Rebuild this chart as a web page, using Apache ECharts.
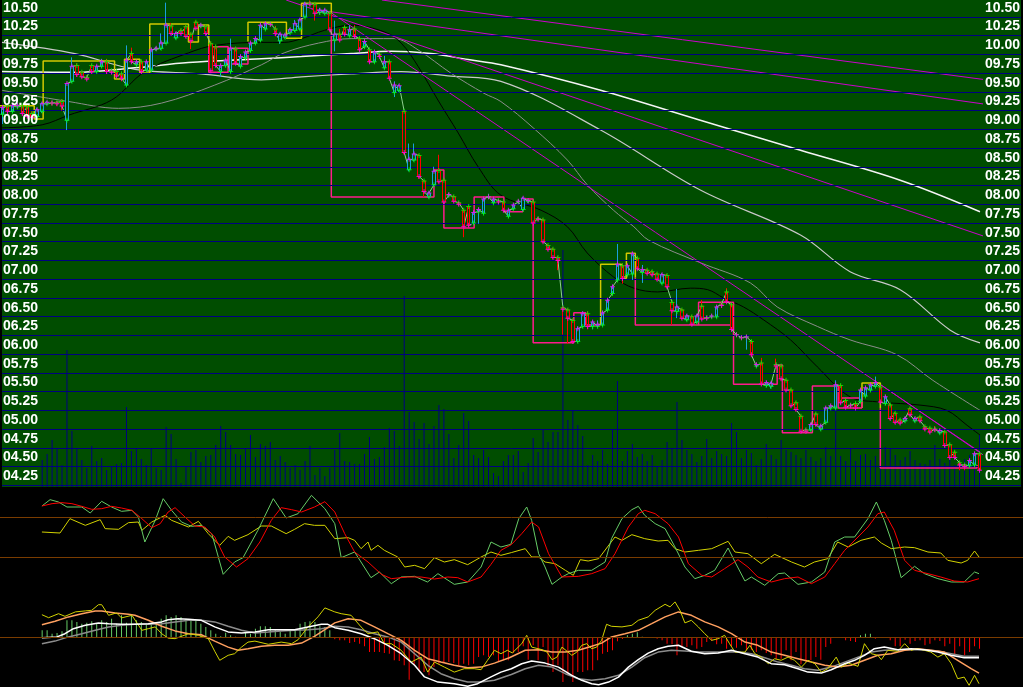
<!DOCTYPE html>
<html><head><meta charset="utf-8">
<script src="https://cdn.jsdelivr.net/npm/echarts@6/dist/echarts.min.js"></script>
<style>html,body{margin:0;padding:0;background:#000;}#c{width:1023px;height:687px;}</style>
</head><body><div id="c"></div>
<script>
// ---------- DATA ----------
// candle rows: [open, close, low, high]
const candles = [
[9.08,9.17,8.95,9.20],[9.19,9.12,9.08,9.21],[9.12,9.20,9.10,9.22],[9.18,9.20,9.15,9.23],[9.19,9.09,9.06,9.21],
[9.18,9.05,9.03,9.20],[9.09,9.04,9.02,9.12],[9.05,9.14,9.03,9.17],[9.12,9.22,9.10,9.24],[9.22,9.24,9.20,9.26],
[9.23,9.23,9.20,9.26],[9.24,9.22,9.19,9.26],[9.25,9.19,9.13,9.28],[9.00,9.49,8.87,9.50],[9.52,9.72,9.50,9.84],
[9.73,9.61,9.58,9.76],[9.64,9.58,9.56,9.66],[9.57,9.55,9.53,9.60],[9.73,9.65,9.62,9.75],[9.65,9.72,9.63,9.74],
[9.72,9.78,9.70,9.82],[9.78,9.65,9.62,9.82],[9.66,9.64,9.62,9.68],[9.65,9.59,9.57,9.67],[9.62,9.56,9.52,9.64],
[9.47,9.80,9.45,10.00],[9.89,9.78,9.76,9.97],[9.74,9.78,9.72,9.81],[9.78,9.65,9.62,9.80],[9.67,9.78,9.65,9.80],
[9.67,9.94,9.65,9.96],[9.95,9.96,9.93,9.98],[9.96,10.03,9.94,10.16],[10.03,10.27,10.02,10.57],[10.26,10.16,10.14,10.30],
[10.10,10.16,10.08,10.18],[10.20,10.16,10.14,10.22],[10.25,10.12,10.10,10.27],[10.15,10.06,9.95,10.17],[10.31,10.23,10.21,10.33],
[10.26,10.27,10.24,10.29],[10.25,10.16,10.14,10.27],[10.02,9.66,9.64,10.05],[9.98,9.73,9.71,10.00],[9.65,9.73,9.58,9.75],
[9.73,9.80,9.71,9.82],[9.65,9.96,9.63,10.09],[9.95,9.76,9.74,9.97],[9.72,9.85,9.70,9.87],[9.83,9.91,9.81,9.93],
[9.93,10.03,9.91,10.05],[10.03,10.09,10.01,10.11],[10.07,10.27,10.05,10.30],[10.22,10.29,10.20,10.31],[10.29,10.28,10.26,10.30],
[10.22,10.16,10.12,10.26],[10.06,10.15,10.02,10.17],[10.11,10.14,10.09,10.16],[10.17,10.21,10.15,10.23],[10.20,10.29,10.18,10.34],
[10.22,10.34,10.20,10.36],[10.38,10.55,10.37,10.58],[10.56,10.55,10.53,10.60],[10.55,10.43,10.33,10.57],[10.44,10.47,10.41,10.50],
[10.43,10.47,10.41,10.49],[10.43,10.21,10.19,10.45],[10.07,10.15,9.92,10.33],[10.15,10.07,10.05,10.22],[10.24,10.15,10.13,10.26],
[10.13,10.21,10.11,10.27],[10.22,10.12,10.10,10.27],[10.09,9.94,9.92,10.11],[9.98,10.05,9.96,10.07],[9.94,9.78,9.76,9.96],
[9.78,9.91,9.76,9.93],[9.88,9.85,9.83,9.90],[9.70,9.78,9.68,9.86],[9.78,9.56,9.54,9.80],[9.37,9.47,9.31,9.52],
[9.40,9.46,9.38,9.48],[9.12,8.57,8.55,9.13],[8.34,8.48,8.32,8.69],[8.47,8.55,8.45,8.69],[8.53,8.25,8.22,8.55],
[8.19,8.05,7.98,8.20],[7.98,8.03,7.96,8.05],[8.14,8.32,8.12,8.38],[8.33,8.18,8.16,8.54],[8.20,7.91,7.90,8.21],
[8.00,8.01,7.97,8.03],[7.98,7.92,7.90,8.00],[7.90,7.88,7.86,7.92],[7.80,7.58,7.44,7.82],[7.85,7.60,7.57,7.86],
[7.63,7.77,7.61,7.79],[7.78,7.81,7.62,7.83],[7.76,7.95,7.74,7.97],[7.98,7.98,7.96,8.02],[7.90,7.95,7.88,7.97],
[7.93,7.91,7.89,7.95],[7.91,7.80,7.78,7.93],[7.72,7.80,7.70,7.82],[7.82,7.87,7.80,7.89],[7.91,7.92,7.89,7.94],
[7.81,7.96,7.79,7.98],[7.92,7.93,7.90,7.95],[7.91,7.63,7.61,7.93],[7.69,7.68,7.66,7.71],[7.67,7.38,7.36,7.69],
[7.33,7.28,7.26,7.35],[7.28,7.17,7.15,7.30],[7.17,7.13,7.00,7.19],[6.50,6.48,6.14,6.52],[6.47,6.36,6.02,6.49],
[6.33,6.05,6.03,6.35],[6.05,6.22,6.03,6.25],[6.25,6.42,6.23,6.45],[6.42,6.25,6.21,6.45],[6.25,6.31,6.21,6.33],
[6.25,6.28,6.23,6.33],[6.27,6.43,6.25,6.46],[6.47,6.60,6.45,6.62],[6.69,6.78,6.67,6.80],[6.87,7.08,6.85,7.35],
[7.06,6.89,6.82,7.09],[6.94,7.06,6.92,7.08],[6.95,7.22,6.87,7.24],[7.16,7.02,7.00,7.18],[6.97,7.01,6.83,7.07],
[7.00,6.96,6.94,7.02],[6.98,6.94,6.92,7.00],[6.95,6.88,6.86,6.97],[6.83,6.94,6.81,6.96],[6.93,6.78,6.76,6.95],
[6.57,6.46,6.27,6.58],[6.45,6.51,6.36,6.75],[6.47,6.36,6.34,6.49],[6.34,6.39,6.32,6.41],[6.38,6.28,6.26,6.40],
[6.31,6.39,6.29,6.41],[6.52,6.35,6.33,6.60],[6.37,6.36,6.34,6.39],[6.38,6.39,6.36,6.41],[6.38,6.51,6.36,6.53],
[6.55,6.53,6.50,6.57],[6.71,6.58,6.56,6.76],[6.54,6.21,6.19,6.56],[6.14,6.14,6.12,6.16],[6.10,6.10,6.08,6.12],
[6.11,6.11,5.94,6.13],[6.05,5.87,5.85,6.07],[5.72,5.74,5.70,5.76],[5.76,5.48,5.46,5.83],[5.46,5.50,5.44,5.52],
[5.45,5.49,5.42,5.51],[5.74,5.72,5.70,5.82],[5.72,5.55,5.53,5.74],[5.53,5.40,5.38,5.55],[5.40,5.19,5.17,5.42],
[5.23,5.14,5.12,5.25],[5.05,4.85,4.83,5.07],[4.87,4.85,4.83,4.89],[4.87,4.94,4.85,4.96],[5.08,4.94,4.92,5.10],
[4.88,4.92,4.86,4.94],[4.97,5.16,4.95,5.18],[5.16,5.19,5.14,5.21],[5.16,5.47,5.14,5.53],[5.46,5.23,5.21,5.48],
[5.26,5.17,5.15,5.28],[5.20,5.19,5.17,5.22],[5.22,5.16,5.14,5.24],[5.25,5.40,5.23,5.42],[5.32,5.43,5.30,5.45],
[5.40,5.47,5.38,5.49],[5.45,5.50,5.43,5.58],[5.44,5.24,5.22,5.46],[5.22,5.31,5.20,5.33],[5.20,5.02,5.00,5.22],
[5.09,4.97,4.95,5.11],[5.00,4.96,4.94,5.02],[4.99,5.02,4.97,5.04],[5.15,5.07,5.05,5.17],[4.99,5.02,4.97,5.04],
[5.04,4.99,4.97,5.06],[4.91,4.88,4.86,4.93],[4.89,4.84,4.82,4.91],[4.88,4.87,4.85,4.92],[4.83,4.86,4.81,4.88],
[4.84,4.66,4.64,4.86],[4.67,4.50,4.48,4.69],[4.57,4.50,4.48,4.59],[4.43,4.40,4.33,4.45],[4.40,4.38,4.33,4.42],
[4.39,4.46,4.37,4.48],[4.40,4.55,4.38,4.57],[4.55,4.33,4.32,4.57]
];
const volumes = [null,null,null,null,null,null,null,null,
27,33,47,39,22,137,56,38,27,19,41,26,29,17,21,23,24,80,36,38,28,22,38,19,17,60,53,28,4,21,35,37,25,31,32,42,61,55,42,33,32,38,
52,30,43,41,45,27,31,25,19,22,17,26,41,12,19,11,19,37,54,26,25,23,23,33,50,28,30,40,59,56,41,191,75,65,48,64,43,61,82,78,
53,29,42,74,66,32,29,37,30,14,11,26,32,32,36,15,24,49,35,58,45,55,55,237,67,77,62,51,22,32,26,37,23,57,106,26,36,43,30,33,
26,32,21,27,45,38,85,47,37,33,25,31,48,29,36,33,31,64,55,29,37,34,22,28,43,32,28,47,37,35,32,29,37,30,26,29,40,31,107,31,
26,38,26,32,33,27,31,38,40,38,32,27,30,36,27,24,23,27,42,28,24,32,22,20,28,32,33,52];
const priceTicks = [4.25,4.5,4.75,5,5.25,5.5,5.75,6,6.25,6.5,6.75,7,7.25,7.5,7.75,8,8.25,8.5,8.75,9,9.25,9.5,9.75,10,10.25,10.5];

// moving averages: [candle index, price]
const maBlack = [[-0.1,8.90],[8,8.94],[13.4,9.07],[22,9.27],[28.7,9.65],[37.5,9.90],[42.8,10.0],[52.2,10.04],[56.8,10.04],[60.3,10.09],[64.9,10.2],[70.3,10.27],[77,10.18],[80.4,10.03],[83.8,9.72],[87.8,9.27],[91.9,8.83],[95.9,8.38],[100.5,8.0],[108.6,7.80],[113.9,7.58],[117.9,7.23],[123.2,6.91],[127.3,6.76],[132.1,6.71],[138.7,6.76],[142.2,6.74],[145.4,6.63],[149.4,6.51],[153.4,6.34],[158.9,6.07],[164.3,5.71],[170.9,5.31],[177,5.24],[185,5.20],[190.4,5.13],[194.5,4.93],[197.1,4.80]];
const maDarkGray = [[-0.1,9.40],[13.4,9.25],[23.4,9.16],[32.1,9.23],[42.8,9.47],[52.2,9.74],[56.8,9.90],[63.7,10.03],[70.3,10.09],[79,10.09],[83.8,9.94],[90.4,9.63],[97.1,9.36],[100.5,9.25],[107,8.90],[113.9,8.47],[117.9,8.14],[123.2,7.80],[127.3,7.58],[130.3,7.40],[140.7,7.10],[150.8,6.83],[156.2,6.51],[164.3,6.25],[170.9,6.07],[180.4,5.87],[187.6,5.53],[197.1,5.13]];
const maLightGray = [[-0.1,10.04],[14.6,9.89],[26.7,9.68],[40.1,9.62],[52.2,9.54],[60.3,9.58],[70.3,9.62],[80.4,9.65],[90.4,9.59],[100.5,9.52],[120.6,8.87],[140.7,8.07],[160.9,7.47],[170.9,6.98],[181,6.74],[191.1,6.20],[197.1,6.03]];
const maWhite = [[-0.1,9.65],[14.6,9.64],[26.7,9.70],[37.5,9.77],[52.2,9.82],[60.3,9.85],[70.3,9.89],[78.4,9.92],[86.4,9.89],[93.9,9.81],[100.5,9.74],[120.6,9.40],[140.7,9.00],[160.9,8.60],[181,8.20],[197.1,7.78]];

// magenta trend lines: [[index, price], [index, price]]
const trendLines = [
 [[76.5,10.605],[197.8,9.545]],
 [[62.3,10.485],[197.8,9.218]],
 [[57.2,10.605],[197.8,7.455]],
 [[66.3,10.434],[197.1,4.573]],
 [[176.2,5.511],[197.7,4.537]]
];
// step "box" lines: [index, price] polylines
const boxYellow = [
 [[-0.5,9.195],[6.4,9.195],[6.4,9.018],[8.2,9.018],[8.2,9.791],[22.6,9.791],[22.6,9.551],[24.6,9.551],[24.6,9.814],[27.7,9.814],[27.7,9.631],[29.7,9.631],[29.7,10.285],[37.5,10.285],[37.5,10.045],[39.5,10.045],[39.5,10.272],[41.6,10.272],[41.6,9.982]],
 [[49.5,10.05],[49.5,10.308],[57.25,10.308],[57.25,10.094],[60.3,10.094],[60.3,10.561],[66.3,10.561],[66.3,10.40]],
 [[120.6,6.269],[120.6,7.079],[124.8,7.079],[124.8,6.892],[125.8,6.892],[125.8,7.225],[127.6,7.225],[127.6,6.9]],
 [[173.3,5.161],[173.3,5.495],[177.0,5.495],[177.0,5.161]]
];
const boxPink = [
 [[41.6,9.982],[45.5,9.982],[45.5,9.641],[41.6,9.641],[41.6,9.982]],
 [[45.5,9.961],[49.5,9.961],[49.5,9.751],[45.5,9.751],[45.5,9.961]],
 [[66.3,10.40],[66.3,7.977],[87.0,7.977],[87.0,8.337],[89.0,8.337],[89.0,7.563],[95.1,7.563],[95.1,7.977],[101.1,7.977],[101.1,7.781],[104.9,7.781],[104.9,7.950],[107.0,7.950],[107.0,6.032],[115.2,6.032],[115.2,6.433],[117.6,6.433],[117.6,6.269],[120.6,6.269]],
 [[127.6,6.9],[127.6,6.269],[147.4,6.269]],
 [[140.35,6.269],[140.35,6.572],[147.4,6.572],[147.4,5.478],[156.2,5.478],[156.2,5.735],[157.25,5.735],[157.25,4.832],[163.3,4.832],[163.3,5.455],[168.5,5.455],[168.5,5.161],[173.3,5.161]],
 [[168.5,5.295],[173.3,5.295],[173.3,5.161]],
 [[177.0,5.161],[177.0,4.361],[196.5,4.361],[196.5,4.40]]
];

// KDJ-type oscillator: [index, value]
const oscGreen = [[7.95,96.9],[9.6,106.4],[11.3,102.9],[13,95.4],[16,95.4],[17.7,86.4],[20,103.9],[22,95.4],[24,88.9],[26.1,90.4],[27.4,80.4],[28.7,42.9],[30.8,75.4],[32.4,107.9],[34.1,90.4],[36.1,72.9],[38.1,66.4],[40.1,67.9],[42.2,55.4],[44.5,-5.6],[46.8,12.9],[48.5,19.4],[51.5,60.4],[54.6,107.9],[57.2,78.9],[59.6,85.4],[62.3,112.9],[65,92.9],[67,70.4],[68.3,19.4],[71,27.9],[74.3,-10.6],[76,-2.1],[78.4,-19.6],[80.4,-9.6],[83.1,-8.6],[85.7,-17.1],[87.8,-4.6],[91.1,-20.6],[93.8,-17.1],[96.5,5.4],[98.5,42.9],[100.5,35.4],[102.5,39.4],[104.1,77.9],[105.7,95.4],[106.7,75.4],[108.1,25.4],[109.4,5.4],[110.8,-20.6],[112.8,-9.6],[114.1,-4.6],[116.1,0.4],[118.8,0.4],[121.5,12.9],[122.8,47.9],[124.9,77.9],[126.9,91.4],[128.2,96.4],[129.5,82.9],[131.6,70.4],[133.6,62.9],[135.6,35.4],[137.6,5.4],[139.6,-12.1],[141.6,-7.1],[143.6,0.4],[146.3,33.9],[147.7,12.9],[149.7,-15.6],[151,-9.6],[153.7,-22.1],[156.4,-4.6],[157.7,-3.6],[160.4,-20.6],[163.1,-17.1],[165.8,-2.1],[167.8,42.9],[169.8,50.4],[171.8,50.4],[174.5,77.9],[176.2,102.9],[177.8,75.4],[179.2,45.4],[181.2,-10.6],[183.9,6.4],[185.9,-4.6],[188.6,-12.1],[191.3,-17.1],[193.9,-17.1],[196,-2.1],[196.9,-4.6]];
const oscRed = [[7.95,96.9],[10,100.4],[12,101.9],[14,100.4],[16,96.4],[18,91.9],[20,92.9],[22,96.4],[24,93.9],[26.1,90.4],[28.1,77.9],[30.1,64.4],[31.8,70.4],[33.4,87.9],[34.8,94.4],[36.8,80.4],[38.8,66.9],[40.8,65.4],[42.8,50.4],[44.8,20.4],[47.2,5.4],[49.5,17.9],[51.9,42.9],[54.2,75.4],[56.2,94.4],[58.3,91.4],[60.3,87.9],[62.9,95.4],[65,103.4],[67,87.9],[69,55.4],[71,27.9],[73.7,12.9],[76.4,-5.6],[78.4,-12.1],[81.7,-9.6],[84.4,-9.6],[87.1,-12.6],[89.8,-9.6],[91.8,-10.6],[93.8,-17.1],[96.5,-9.6],[98.5,9.4],[100.5,30.4],[102.6,39],[104.7,55.4],[106.7,72.9],[108.1,65.4],[110.1,25.4],[112.8,-9.6],[116.1,-8.6],[118.8,-4.6],[121.5,2.9],[123.5,25.4],[126.2,65.4],[128.2,85.4],[129.5,90.4],[131.6,85.4],[134.2,70.4],[136.3,50.4],[138.3,10.4],[141,-7.1],[143,-9.6],[145.6,2.9],[148.3,16.4],[150.3,5.4],[152.3,-9.6],[155,-17.1],[157.7,-12.1],[160.4,-9.6],[163.1,-19.6],[165.8,-9.6],[167.8,10.4],[169.8,30.4],[172.5,50.4],[174.5,65.4],[176.5,85.4],[177.8,87.9],[179.8,60.4],[181.9,15.4],[183.9,0.4],[186.6,-4.6],[189.2,-9.6],[191.9,-15.6],[194.6,-17.1],[196.9,-12.1]];
const oscYellow = [[7.95,57.9],[11.6,56.4],[13.6,77.9],[16.7,67.9],[19.7,76.4],[20.7,62.9],[23.4,61.9],[25.4,71.9],[27.4,72.9],[28.1,60.4],[30.1,72.9],[32.8,82.9],[34.1,75.4],[37.5,65.4],[39.5,73.9],[41.5,55.4],[43.8,37.9],[45.5,51.4],[46.8,45.4],[49.5,53.9],[52.2,66.9],[54.2,66.9],[57.2,55.4],[58.9,61.9],[60.9,70.4],[62.9,67.9],[65,67.9],[67,47.9],[69.7,49.4],[71,45.4],[72.3,32.9],[73.7,42.9],[74.3,30.4],[75.7,37.9],[77,30.4],[79.7,20.4],[81.1,5.4],[83.1,7.9],[85.1,2.9],[87.1,19.4],[89.1,12.9],[91.1,16.4],[93.8,8.9],[96.5,20.4],[98.5,27.9],[100.5,22.9],[102.6,27],[105.4,32.9],[106.7,20.4],[108.1,20.4],[109.4,12.9],[111.4,10.4],[113.5,0.4],[115.1,-7.1],[116.5,16.4],[118.1,14.4],[120.2,17.9],[123.5,50.4],[124.9,45.4],[126.9,53.9],[129.5,47.9],[132.2,44.4],[134.2,45.4],[135.6,32.9],[137.6,27.9],[140.3,30.4],[143,32.9],[146.3,43.9],[147.7,27.9],[150.3,25.4],[153,10.4],[155.7,24.4],[159.1,12.9],[161.7,5.4],[163.7,12.9],[166.4,17.9],[168.4,42.9],[170.5,35.4],[173.1,45.4],[175.8,50.4],[177.2,41.4],[179.2,32.9],[181.9,35.4],[183.9,34.4],[186.6,27.9],[189.2,26.4],[190.6,15.4],[193.3,11.4],[194.6,15.4],[196,29.4],[196.9,20.4]];
const oscLevels = [80, 20];

// MACD-type panel: [index, value]
const macdWhite = [[7.95,-0.002],[11,0.002],[12.6,0.018],[14.3,0.043],[16.7,0.06],[19.35,0.072],[21.4,0.068],[24,0.065],[26.7,0.065],[29.4,0.068],[32.1,0.077],[33.4,0.088],[35.4,0.093],[37.5,0.09],[40.1,0.085],[42.8,0.052],[45.5,0.027],[48.2,0.022],[50.9,0.027],[53.6,0.038],[56.2,0.038],[58.9,0.038],[61.6,0.052],[64.3,0.065],[65.6,0.065],[67,0.048],[69.7,0.035],[72.3,0.018],[75,-0.007],[77.7,-0.04],[80.4,-0.082],[83.1,-0.14],[85.1,-0.198],[87.8,-0.224],[91.1,-0.232],[93.8,-0.245],[95.8,-0.232],[98.5,-0.198],[100.5,-0.174],[102.6,-0.157],[104.7,-0.132],[106.7,-0.119],[109.4,-0.129],[112.1,-0.149],[114.8,-0.19],[116.8,-0.215],[118.8,-0.232],[120.2,-0.237],[122.2,-0.224],[124.2,-0.199],[126.2,-0.149],[128.2,-0.112],[130.2,-0.079],[132.2,-0.057],[134.2,-0.045],[136.3,-0.04],[138.9,-0.07],[141.6,-0.082],[144.3,-0.079],[147,-0.065],[149.7,-0.082],[152.3,-0.099],[155,-0.132],[157.7,-0.137],[160.4,-0.157],[162.4,-0.174],[165.1,-0.179],[167.1,-0.162],[169.8,-0.132],[171.8,-0.115],[173.8,-0.09],[175.8,-0.057],[177.8,-0.049],[180.5,-0.062],[183.2,-0.057],[185.9,-0.062],[188.6,-0.074],[191.3,-0.09],[193.9,-0.102],[196.9,-0.102]];
const macdGray = [[7.95,-0.032],[10.6,-0.019],[13.3,0.002],[16,0.018],[18.7,0.035],[21.4,0.052],[24,0.06],[26.7,0.065],[29.4,0.065],[32.1,0.068],[34.8,0.077],[37.5,0.085],[40.1,0.085],[42.8,0.077],[45.5,0.055],[48.2,0.035],[50.9,0.022],[53.6,0.027],[56.2,0.032],[58.9,0.035],[61.6,0.038],[64.3,0.043],[67,0.055],[69.7,0.052],[72.3,0.038],[75,0.018],[77.7,0.002],[80.4,-0.024],[83.1,-0.082],[85.75,-0.14],[88.4,-0.182],[91.1,-0.207],[93.8,-0.224],[96.5,-0.224],[99.2,-0.215],[102.6,-0.186],[105.4,-0.157],[108.1,-0.14],[110.8,-0.149],[113.5,-0.182],[116.1,-0.207],[118.8,-0.215],[121.5,-0.207],[124.2,-0.19],[126.9,-0.149],[129.5,-0.102],[132.2,-0.074],[134.9,-0.065],[137.6,-0.069],[140.3,-0.074],[143,-0.074],[145.6,-0.074],[148.3,-0.074],[151,-0.082],[153.7,-0.102],[156.4,-0.124],[159.1,-0.14],[161.7,-0.157],[164.4,-0.165],[167.1,-0.149],[169.8,-0.124],[172.5,-0.099],[175.2,-0.074],[177.8,-0.065],[180.5,-0.062],[183.2,-0.062],[185.9,-0.062],[188.6,-0.069],[191.3,-0.082],[193.9,-0.095],[196.9,-0.095]];
const macdYellow = [[7.95,0.113],[9.3,0.098],[11.3,0.118],[12.6,0.105],[14.7,0.127],[16.7,0.132],[18,0.135],[19.35,0.163],[20,0.163],[21.4,0.11],[23,0.122],[24,0.097],[26.1,0.11],[28.1,0.035],[29.4,0.043],[30.8,0.052],[32.1,0.018],[33.4,-0.004],[34.8,-0.007],[37.5,0.018],[39.5,0.01],[41.5,-0.007],[42.8,-0.07],[43.8,-0.115],[45.5,-0.09],[46.8,-0.082],[48.2,-0.049],[49.5,-0.024],[50.9,-0.019],[53.6,-0.035],[56.2,-0.024],[58.3,-0.032],[59.6,-0.012],[61.6,0.052],[63.6,0.102],[65,0.147],[67,0.127],[68.3,0.118],[70.3,0.11],[72.3,0.052],[73.7,0.018],[75.7,0.027],[77,-0.032],[78.4,-0.032],[80.4,-0.065],[82.4,-0.124],[84.4,-0.099],[85.75,-0.174],[87.1,-0.124],[89.1,-0.149],[91.1,-0.174],[93.1,-0.157],[95.1,-0.157],[96.5,-0.162],[97.8,-0.115],[99.2,-0.065],[100.5,-0.082],[101.8,-0.065],[102.8,-0.078],[104.7,-0.032],[105.7,0.01],[106.7,-0.049],[108.8,-0.062],[109.8,-0.074],[110.8,-0.112],[111.8,-0.099],[112.8,-0.049],[113.8,-0.069],[114.8,-0.09],[115.8,-0.074],[116.8,-0.04],[117.8,-0.032],[118.8,-0.057],[119.8,-0.049],[120.8,-0.015],[121.8,0.065],[122.8,0.055],[124.9,0.052],[126.9,0.06],[128.2,0.085],[130.2,0.102],[131.6,0.135],[133.6,0.165],[134.6,0.152],[135.6,0.177],[136.6,0.135],[137.6,0.072],[138.9,0.085],[140.3,0.052],[141.6,0.018],[143,-0.015],[144.3,-0.007],[145.6,0.01],[146.6,-0.032],[147.7,-0.074],[149.7,-0.074],[150.7,-0.04],[151.7,-0.082],[153,-0.099],[154.4,-0.132],[155.7,-0.107],[157,-0.115],[158.4,-0.099],[159.7,-0.115],[161.1,-0.149],[162.4,-0.115],[163.8,-0.132],[165.1,-0.174],[166.4,-0.157],[168.1,-0.099],[169.1,-0.149],[170.5,-0.129],[172.5,-0.145],[173.8,-0.032],[175.2,-0.082],[176.5,-0.09],[177.2,-0.112],[178.5,-0.065],[180.5,-0.07],[181.9,-0.032],[183.2,-0.065],[184.5,-0.057],[185.9,-0.065],[187.2,-0.074],[188.6,-0.099],[189.9,-0.082],[191.3,-0.132],[192.6,-0.207],[193.9,-0.199],[194.9,-0.24],[196,-0.19],[196.9,-0.232]];
const macdOrange = [[7.95,0.063],[10.6,0.08],[13.3,0.102],[16,0.118],[18.7,0.132],[20,0.132],[22.7,0.122],[25.4,0.115],[26.7,0.11],[29.4,0.085],[32.1,0.055],[34.8,0.032],[37.5,0.018],[40.1,0.013],[42.8,-0.019],[45.5,-0.049],[47.5,-0.065],[49.5,-0.057],[52.2,-0.045],[54.9,-0.04],[57.6,-0.04],[60.3,-0.029],[62.9,0.005],[65,0.038],[67,0.072],[69.7,0.093],[72.3,0.085],[75,0.052],[77.7,0.018],[80.4,-0.015],[83.1,-0.065],[85.75,-0.107],[88.4,-0.124],[91.1,-0.14],[93.8,-0.152],[96.5,-0.149],[99.2,-0.129],[102.2,-0.102],[105.4,-0.065],[108.1,-0.062],[110.8,-0.074],[113.5,-0.074],[116.1,-0.065],[118.8,-0.045],[120.8,-0.029],[122.8,0.002],[125.5,0.018],[128.2,0.035],[130.9,0.068],[133.6,0.102],[136.3,0.127],[138.9,0.11],[141.6,0.077],[144.3,0.052],[147,0.018],[149.7,-0.024],[152.3,-0.04],[155,-0.074],[157.7,-0.09],[160.4,-0.107],[163.1,-0.124],[165.8,-0.14],[168.4,-0.149],[171.1,-0.14],[173.8,-0.115],[176.5,-0.09],[179.2,-0.082],[181.9,-0.065],[184.5,-0.057],[187.2,-0.065],[189.9,-0.074],[192.6,-0.115],[195.3,-0.157],[196.9,-0.179]];
const macdHist = [null,null,null,null,null,null,null,null,
0.035,0.035,0.018,0.022,0.030,0.085,0.085,0.077,0.068,0.073,0.080,0.068,0.085,0.077,0.093,0.068,0.110,0.073,0.110,0.085,0.077,0.068,
0.072,0.068,0.093,0.110,0.102,0.110,0.102,0.093,0.085,0.085,0.068,0.052,0.035,0.018,0.005,0.023,0.010,0.003,0.002,0.022,
0.018,0.043,0.055,0.055,0.052,0.035,0.027,0.018,0.035,0.038,0.068,0.077,0.080,0.077,0.055,0.052,0.035,-0.010,-0.015,-0.015,
-0.029,-0.024,-0.032,-0.045,-0.074,-0.074,-0.074,-0.079,-0.082,-0.115,-0.119,-0.140,-0.212,-0.140,-0.165,-0.174,-0.190,-0.149,-0.132,-0.129,
-0.124,-0.129,-0.140,-0.132,-0.140,-0.132,-0.099,-0.090,-0.099,-0.090,-0.124,-0.115,-0.115,-0.079,-0.074,-0.045,-0.112,-0.040,-0.115,-0.049,
-0.149,-0.174,-0.140,-0.224,-0.190,-0.224,-0.174,-0.174,-0.165,-0.165,-0.115,-0.082,-0.074,-0.065,-0.020,-0.008,0.010,0.018,0.025,0.003,
0.002,-0.004,-0.007,-0.015,-0.032,-0.035,-0.090,-0.045,-0.049,-0.040,-0.057,-0.049,-0.024,-0.019,-0.035,-0.032,-0.057,-0.045,-0.052,-0.040,
-0.065,-0.062,-0.074,-0.065,-0.079,-0.090,-0.107,-0.107,-0.065,-0.115,-0.074,-0.135,-0.124,-0.115,-0.099,-0.112,-0.049,-0.032,-0.004,-0.003,
-0.015,-0.019,-0.024,0.010,0.018,0.018,-0.007,-0.002,-0.003,-0.015,-0.045,-0.045,-0.012,-0.032,-0.019,-0.015,-0.040,-0.032,-0.015,-0.019,
-0.045,-0.032,-0.085,-0.045,-0.090,-0.074,-0.045,-0.057];

// ---------- LAYOUT ----------
const N = candles.length;
const MAIN_H = 487, PMIN = 4.1069, PMAX = 10.6054;
const DL = -2, DW = 984;           // data grids: left / width (about 5px per candle)
const OSC_TOP = 487.27, OSC_H = 110, OSC_MIN = -40, OSC_MAX = 125;
const MACD_TOP = 600, MACD_H = 87, MACD_MIN = -0.2485, MACD_MAX = 0.1865;
const GREEN_BG = '#004d00';

const pad = v => { const s = v.toFixed(2); return s.length < 5 ? '0' + s : s; };
const plus = 'path://M2,0h1v2h2v1h-2v2h-1v-2h-2v-1h2z';
const cats = candles.map((_, i) => i);

const chart = echarts.init(document.getElementById('c'), null, {renderer: 'canvas'});
const hidden = {show: false};
const series = [];

// horizontal navy rules of the price panel (half-way between labels)
series.push({type: 'line', xAxisIndex: 0, yAxisIndex: 0, data: [], silent: true,
  markLine: {silent: true, symbol: ['none', 'none'], animation: false, label: {show: false},
    lineStyle: {color: '#000080', width: 1, type: 'solid'},
    data: priceTicks.map(t => ({yAxis: t - 0.125}))}});
// brown rules of lower panels
series.push({type: 'line', xAxisIndex: 3, yAxisIndex: 4, data: [], silent: true,
  markLine: {silent: true, symbol: ['none', 'none'], animation: false, label: {show: false},
    lineStyle: {color: '#7a3c00', width: 1, type: 'solid'},
    data: oscLevels.map(v => ({yAxis: v}))}});
series.push({type: 'line', xAxisIndex: 5, yAxisIndex: 6, data: [], silent: true,
  markLine: {silent: true, symbol: ['none', 'none'], animation: false, label: {show: false},
    lineStyle: {color: '#7a3c00', width: 1, type: 'solid'},
    data: [{yAxis: 0}]}});

// volume
series.push({type: 'bar', xAxisIndex: 1, yAxisIndex: 3, data: volumes, barWidth: 1,
  itemStyle: {color: '#000080'}, z: 1});

// moving averages
const maLine = (d, c, w) => ({type: 'line', xAxisIndex: 2, yAxisIndex: 2, data: d, symbol: 'none',
  smooth: 0.35, lineStyle: {color: c, width: w}, z: 2, silent: true});
series.push(maLine(maLightGray, '#c8c8c8', 1.2));
series.push(maLine(maWhite, '#f4f4f4', 1.5));
series.push(maLine(maDarkGray, '#8c8c8c', 1));
series.push(maLine(maBlack, '#000000', 1));

// trend lines
trendLines.forEach(seg => series.push({type: 'line', xAxisIndex: 2, yAxisIndex: 2, data: seg,
  symbol: 'none', clip: false, lineStyle: {color: '#cc00cc', width: 1}, z: 3, silent: true}));

// step boxes
boxYellow.forEach(run => series.push({type: 'line', xAxisIndex: 2, yAxisIndex: 2, data: run,
  symbol: 'none', lineStyle: {color: '#d2c800', width: 1.5}, z: 3, silent: true}));
boxPink.forEach(run => series.push({type: 'line', xAxisIndex: 2, yAxisIndex: 2, data: run,
  symbol: 'none', lineStyle: {color: '#ff1a8c', width: 1.5}, z: 3, silent: true}));

// open->close path line
const path = [];
candles.forEach((c, i) => { path.push([i, c[0]]); path.push([i, c[1]]); });
series.push({type: 'line', xAxisIndex: 2, yAxisIndex: 2, data: path, symbol: 'none',
  lineStyle: {color: '#8fd08f', width: 1}, z: 4, silent: true});

// candles
series.push({type: 'candlestick', xAxisIndex: 1, yAxisIndex: 2, data: candles, barWidth: 3, z: 5,
  itemStyle: {color: GREEN_BG, color0: GREEN_BG, borderColor: '#1aa0dc', borderColor0: '#ff0000', borderWidth: 1}});
// open / close markers
series.push({type: 'scatter', xAxisIndex: 1, yAxisIndex: 2, data: candles.map(c => c[0]), symbol: plus,
  symbolSize: 5, itemStyle: {color: '#00ff00'}, z: 6, silent: true});
series.push({type: 'scatter', xAxisIndex: 1, yAxisIndex: 2, data: candles.map(c => c[1]), symbol: plus,
  symbolSize: 5, itemStyle: {color: '#ff00ff'}, z: 7, silent: true});

// oscillator
const oscLine = (d, c) => ({type: 'line', xAxisIndex: 4, yAxisIndex: 5, data: d, symbol: 'none',
  lineStyle: {color: c, width: 1}, silent: true});
series.push(oscLine(oscYellow, '#d2d200'));
series.push(oscLine(oscGreen, '#66cc66'));
series.push(oscLine(oscRed, '#ff0000'));

// macd
series.push({type: 'bar', xAxisIndex: 7, yAxisIndex: 7, data: macdHist, barWidth: 1, silent: true,
  itemStyle: {color: p => (p.value >= 0 ? '#66cc66' : '#ff0000')}});
const macdLine = (d, c, w) => ({type: 'line', xAxisIndex: 6, yAxisIndex: 7, data: d, symbol: 'none',
  lineStyle: {color: c, width: w}, silent: true});
series.push(macdLine(macdGray, '#8c8c8c', 1.5));
series.push(macdLine(macdOrange, '#ffa060', 1.5));
series.push(macdLine(macdYellow, '#d2d200', 1));
series.push(macdLine(macdWhite, '#ffffff', 1.5));

const labelStyle = {color: '#ffffff', fontFamily: 'Liberation Sans, Arial, sans-serif', fontWeight: 'bold', fontSize: 14};
const priceAxis = (grid, pos, showLabels) => ({type: 'value', gridIndex: grid, position: pos, min: PMIN, max: PMAX,
  axisLine: hidden, axisTick: hidden, splitLine: hidden, z: 10,
  axisLabel: showLabels ? Object.assign({show: true, inside: true, margin: 1, formatter: pad,
    customValues: priceTicks}, labelStyle) : hidden});
const hiddenVal = (grid, min, max) => ({type: 'value', gridIndex: grid, min, max, show: false,
  axisLine: hidden, axisTick: hidden, axisLabel: hidden, splitLine: hidden});

chart.setOption({
  animation: false,
  backgroundColor: '#000000',
  grid: [
    {left: 0, right: 0, top: 0, height: MAIN_H, show: true, backgroundColor: GREEN_BG, borderWidth: 0},
    {left: DL, width: DW, top: 0, height: MAIN_H},
    {left: 0, right: 0, top: OSC_TOP, height: OSC_H},
    {left: DL, width: DW, top: OSC_TOP, height: OSC_H},
    {left: 0, right: 0, top: MACD_TOP, height: MACD_H},
    {left: DL, width: DW, top: MACD_TOP, height: MACD_H}
  ],
  xAxis: [
    hiddenVal(0, 0, 1),
    {type: 'category', gridIndex: 1, data: cats, boundaryGap: true, show: false},
    hiddenVal(1, -0.5, N - 0.5),
    hiddenVal(2, 0, 1),
    hiddenVal(3, -0.5, N - 0.5),
    hiddenVal(4, 0, 1),
    hiddenVal(5, -0.5, N - 0.5),
    {type: 'category', gridIndex: 5, data: cats, boundaryGap: true, show: false}
  ],
  yAxis: [
    priceAxis(0, 'left', true),
    priceAxis(0, 'right', true),
    priceAxis(1, 'left', false),
    hiddenVal(1, 0, MAIN_H),
    hiddenVal(2, OSC_MIN, OSC_MAX),
    hiddenVal(3, OSC_MIN, OSC_MAX),
    hiddenVal(4, MACD_MIN, MACD_MAX),
    hiddenVal(5, MACD_MIN, MACD_MAX)
  ],
  series
});
</script></body></html>
